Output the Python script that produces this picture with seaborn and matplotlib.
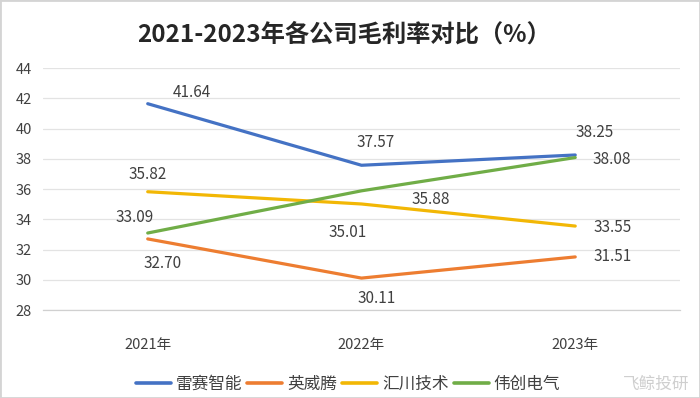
import pandas as pd
import matplotlib
matplotlib.use('Agg')
import matplotlib.pyplot as plt
import seaborn as sns

YEARS = ['2021年', '2022年', '2023年']
COMPANIES = ['雷赛智能', '英威腾', '汇川技术', '伟创电气']
LEISAI = [41.64, 37.57, 38.25]
YINGWEITENG = [32.70, 30.11, 31.51]
HUICHUAN = [35.82, 35.01, 33.55]
WEICHUANG = [33.09, 35.88, 38.08]
COLORS = ['#4472C4', '#ED7D31', '#F2B705', '#70AD47']

# label offsets in pixels (dx, dy)
OFFSETS = {
    '雷赛智能': [(44, 11), (14, 23), (19, 22)],
    '英威腾': [(15, -25), (15, -20), (37, 0)],
    '汇川技术': [(0, 17), (-14, -29), (37, -1)],
    '伟创电气': [(-13, 16), (69, -9), (37, -2)],
}


def collect_data():
    series = [LEISAI, YINGWEITENG, HUICHUAN, WEICHUANG]
    rows = []
    for name, vals in zip(COMPANIES, series):
        for i, v in enumerate(vals):
            rows.append({'x': i, 'year': YEARS[i], 'company': name, 'value': v})
    return pd.DataFrame(rows)


def line_plot(df):
    sns.set_style('white')
    plt.rcParams['font.family'] = ['Noto Sans CJK SC', 'DejaVu Sans']
    fig = plt.figure(figsize=(7, 3.98), dpi=100)
    ax = fig.add_axes([0.0614, 0.2211, 0.9100, 0.6080])
    sns.lineplot(data=df, x='x', y='value', hue='company', hue_order=COMPANIES,
                 palette=COLORS, linewidth=2.3, sort=False, ax=ax, legend=False)

    ax.set_xlim(-0.49, 2.49)
    ax.set_ylim(28, 44)
    ax.set_yticks(range(28, 45, 2))
    ax.set_xticks(range(len(YEARS)))
    ax.set_xticklabels(YEARS)
    ax.tick_params(axis='x', length=0, pad=20, labelsize=10.5, labelcolor='#404040')
    ax.tick_params(axis='y', length=0, pad=8, labelsize=10.5, labelcolor='#404040')
    ax.set_xlabel('')
    ax.set_ylabel('')
    ax.grid(axis='y', color='#e3e3e3', linewidth=0.9)
    for s in ['top', 'right', 'left']:
        ax.spines[s].set_visible(False)
    ax.spines['bottom'].set_color('#d0d0d0')
    ax.spines['bottom'].set_linewidth(0.9)

    for name in COMPANIES:
        sub = df[df['company'] == name]
        for (_, r), off in zip(sub.iterrows(), OFFSETS[name]):
            ax.annotate(f"{r['value']:.2f}", (r['x'], r['value']), xytext=off,
                        textcoords='offset pixels', ha='center', va='center',
                        fontsize=11, color='#404040')

    fig.text(0.492, 0.912, '2021-2023年各公司毛利率对比（%）', ha='center', va='center',
             fontsize=17.5, fontweight='bold', color='#262626')

    handles = [plt.Line2D([], [], color=c, linewidth=2.6) for c in COLORS]
    fig.legend(handles, COMPANIES, loc='center', bbox_to_anchor=(0.497, 0.035), ncol=4,
               frameon=False, fontsize=12, handlelength=2.1, handletextpad=0.3,
               columnspacing=0.3, labelcolor='#404040')

    fig.text(0.985, 0.035, '飞鲸投研', ha='right', va='center', fontsize=12,
             color='#cfcfcf')
    fig.patches.append(plt.Rectangle((0, 0), 1, 1, transform=fig.transFigure,
                                     fill=False, edgecolor='#d4d4d4', linewidth=2))
    fig.savefig('out.png', dpi=100)


def main():
    df = collect_data()
    line_plot(df)


main()
